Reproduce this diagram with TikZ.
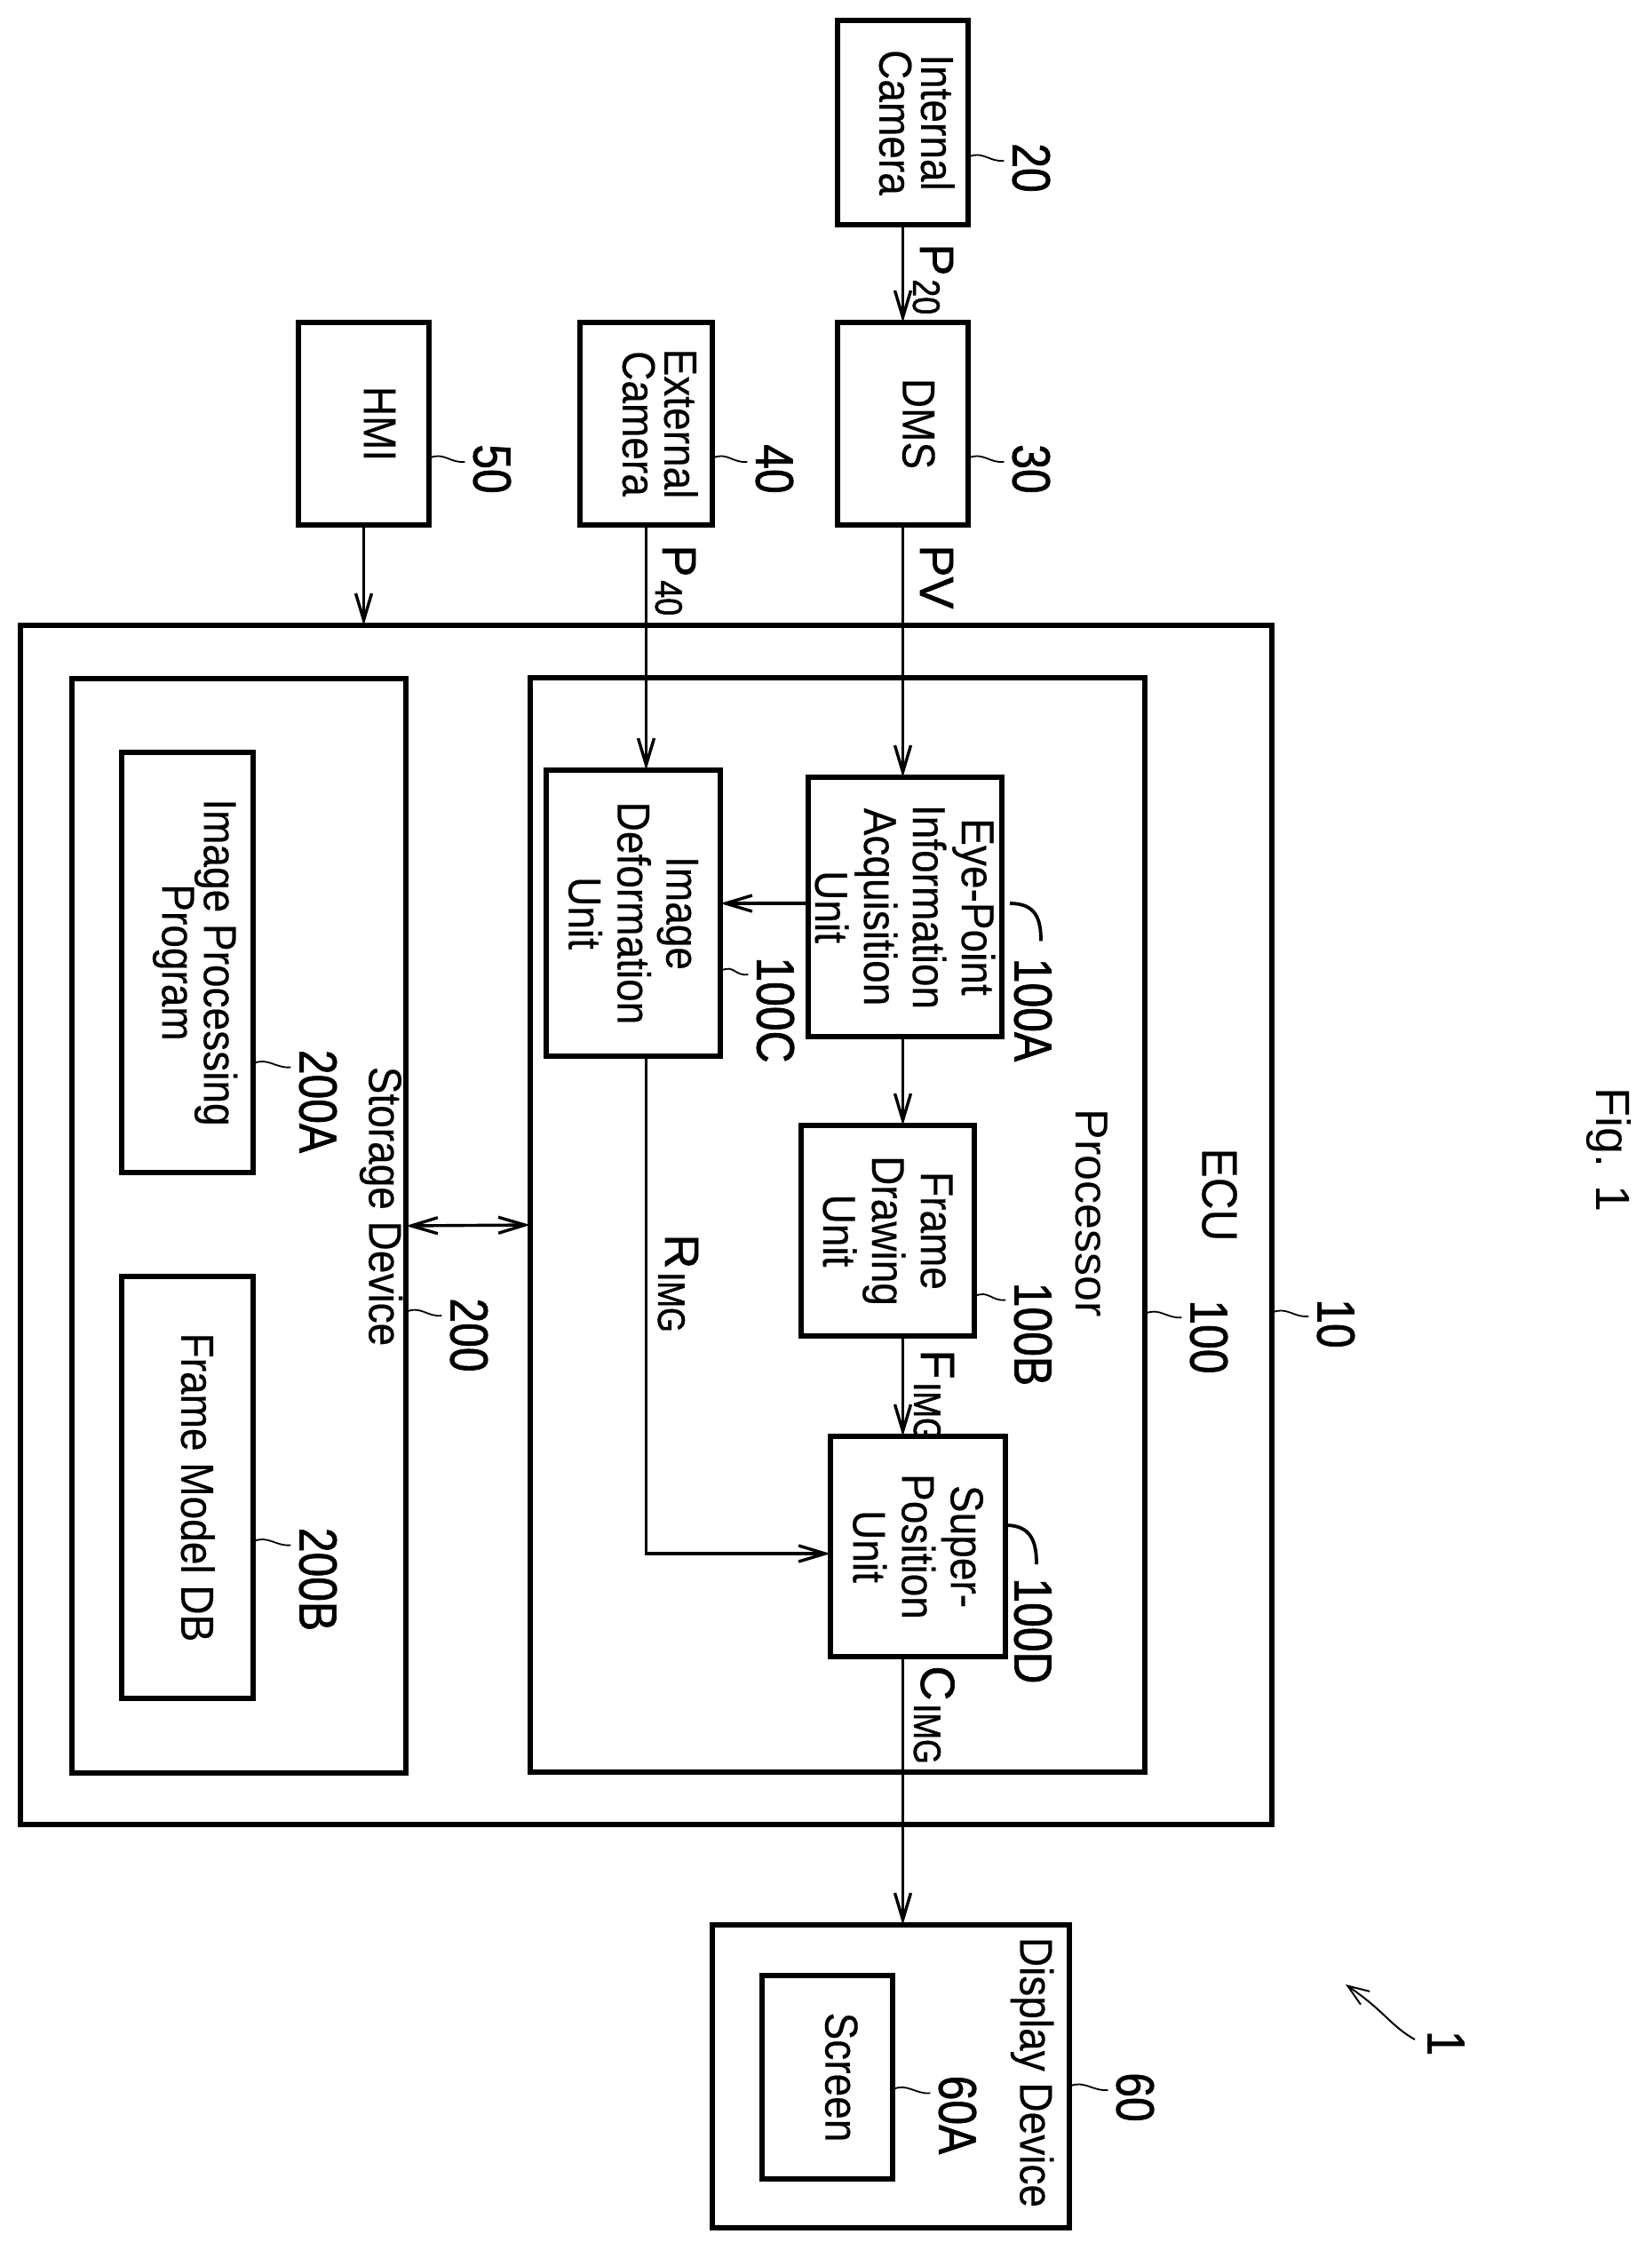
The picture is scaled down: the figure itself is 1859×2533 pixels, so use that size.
\documentclass[tikz,border=0pt]{standalone}
\usepackage{fontspec}
\usepackage{graphicx}
\setmainfont{Liberation Sans}
\newfontfamily\boxfont[FakeStretch=0.885,FakeBold=0.3]{Liberation Sans}
\newfontfamily\numfont[FakeStretch=0.83,FakeBold=1.2]{Liberation Sans}
\newfontfamily\sigfont[FakeBold=1.2]{Liberation Sans}
\usetikzlibrary{positioning,calc}
\usetikzlibrary{arrows.meta}
\newcommand{\signame}[2]{{\fontsize{27}{27}\sigfont #1}\kern2pt\raisebox{-4pt}{\fontsize{21.5}{21.5}\numfont #2}}
\tikzstyle{blockBox}  =[draw,fill=white,line width=2.6pt,rotate=-90,align=center,inner sep=0pt,outer sep=0pt,font=\fontsize{26}{27.5}\boxfont]
\tikzstyle{blockLift} =[blockBox,text depth=18pt]
\tikzstyle{blockTight}=[blockBox,text depth=16pt,font=\fontsize{26}{23.5}\boxfont]
\tikzstyle{groupBox}  =[draw,line width=2.8pt,inner sep=0pt,outer sep=0pt]
\tikzstyle{groupName} =[rotate=-90,inner sep=0pt,font=\fontsize{26}{27}\boxfont]
\tikzstyle{refText}   =[rotate=-90,inner sep=0pt,font=\fontsize{30}{30}\numfont]
\tikzstyle{sigText}   =[rotate=-90,inner sep=0pt,anchor=base west]
\tikzstyle{flowLine}  =[line width=1.7pt,>={Straight Barb[length=15pt,width=9pt]}]
\tikzstyle{leadLine}  =[line width=0.9pt]
\tikzstyle{hookLine}  =[line width=1.9pt]
\begin{document}
\begin{tikzpicture}[x=0.5pt,y=-0.5pt]
        \useasboundingbox (0,0) rectangle (1859,2533);
        \node[groupBox, minimum width=704.5pt, minimum height=675pt] (ecu) at (727.5,1379) {};
        \node[groupBox, minimum width=346pt, minimum height=616pt] (proc) at (943,1379) {};
        \node[groupBox, minimum width=188pt, minimum height=616pt] (store) at (269,1380) {};
        \node[groupBox, minimum width=201pt, minimum height=170.5pt] (disp) at (1003,2337.5) {};
        \node[sigText] (sigP20) at (1036,274) {\signame{P}{20}};
        \node[sigText] (sigPV) at (1036,613) {\fontsize{27}{27}\sigfont PV};
        \node[sigText] (sigP40) at (746,613) {\signame{P}{40}};
        \node[sigText] (sigR) at (749,1389) {\signame{R}{IMG}};
        \node[sigText] (sigF) at (1037,1519) {\signame{F}{IMG}};
        \node[sigText] (sigC) at (1037,1875) {\signame{C}{IMG}};
        \node[blockTight, minimum width=115pt, minimum height=73.5pt] (cam) at (1016.5,138) {Internal\\Camera};
        \node[blockLift, minimum width=114pt, minimum height=73.5pt] (dms) at (1016.5,477) {DMS};
        \node[blockTight, minimum width=114pt, minimum height=74.5pt] (ext) at (727.5,477) {External\\Camera};
        \node[blockLift, minimum width=114pt, minimum height=73.5pt] (hmi) at (409.5,477) {HMI};
        \node[blockBox, minimum width=146pt, minimum height=109pt] (eye) at (1019,1021) {Eye-Point\\Information\\Acquisition\\Unit};
        \node[blockBox, minimum width=161pt, minimum height=98pt] (imgdef) at (713,1028) {Image\\Deformation\\Unit};
        \node[blockBox, minimum width=118.5pt, minimum height=97.5pt] (frame) at (999.5,1385.5) {Frame\\Drawing\\Unit};
        \node[blockBox, minimum width=124pt, minimum height=98.5pt] (super) at (1033.5,1741) {Super-\\Position\\Unit};
        \node[blockTight, text depth=14pt, minimum width=236.5pt, minimum height=74pt] (ipp) at (211,1083.5) {Image Processing\\Program};
        \node[blockTight, text depth=12pt, minimum width=237.5pt, minimum height=74pt] (fmdb) at (211,1674.5) {Frame Model DB};
        \node[blockLift, text depth=16pt, minimum width=114.5pt, minimum height=73.5pt] (screen) at (931.5,2338.5) {Screen};
        \node[groupName] (ecuName) at (1373,1345) {\fontsize{28}{28}\boxfont ECU};
        \node[groupName] (procName) at (1229,1366) {\fontsize{26}{26}\selectfont\rmfamily Processor};
        \node[groupName] (storeName) at (429,1358) {Storage Device};
        \node[groupName] (dispName) at (1162,2333) {Display Device};
        \node[refText] (num20) at (1161,189) {20};
        \node[refText] (num30) at (1161,528) {30};
        \node[refText] (num40) at (872,528) {40};
        \node[refText] (num50) at (554,528) {50};
        \node[refText] (num10) at (1504,1490) {10};
        \node[refText] (num100) at (1361,1505) {100};
        \node[refText] (num100A) at (1163,1137) {100A};
        \node[refText] (num100B) at (1163,1502) {100B};
        \node[refText] (num100C) at (873,1137) {100C};
        \node[refText] (num100D) at (1163,1836) {100D};
        \node[refText] (num200) at (528,1503) {200};
        \node[refText] (num200A) at (358,1240) {200A};
        \node[refText] (num200B) at (358,1778) {200B};
        \node[refText] (num60) at (1278,2361) {60};
        \node[refText] (num60A) at (1078,2381) {60A};
        \node[refText] (num1) at (1628,2300) {1};
        \node[rotate=-90,inner sep=0pt,font=\fontsize{27}{27}\selectfont] (figName) at (1811,1295) {Fig. 1};
        \coordinate (sysTip) at (1515,2234);
        \draw[flowLine,->] (cam.east) -- (dms.west);
        \draw[flowLine,->] (dms.east) -- (dms.east |- eye.west);
        \draw[flowLine,->] (ext.east) -- (ext.east |- imgdef.west);
        \draw[flowLine,->] (hmi.east) -- (hmi.east |- ecu.north);
        \draw[flowLine,->] ([yshift=2pt]eye.south) -- ([yshift=2pt]eye.south -| imgdef.north);
        \draw[flowLine,->] (dms.east |- eye.east) -- (dms.east |- frame.west);
        \draw[flowLine,->] (dms.east |- frame.east) -- (dms.east |- super.west);
        \draw[flowLine,->] (ext.east |- imgdef.east) |- ([yshift=-4pt]super.south);
        \draw[flowLine,->] (dms.east |- super.east) -- (dms.east |- disp.north);
        \draw[flowLine,<->] (store.east) -- (proc.west);
        \foreach \boxside/\numname in {cam.north/num20,dms.north/num30,ext.north/num40,hmi.north/num50,ecu.east/num10,proc.east/num100,frame.north/num100B,imgdef.north/num100C,store.east/num200,ipp.north/num200A,fmdb.north/num200B,disp.east/num60,screen.north/num60A}
          \draw[leadLine] ([yshift=-8pt]\boxside |- \numname.west) .. controls +(8pt,4pt) and +(-8pt,-1pt) .. ([xshift=-4.5pt,yshift=-10pt]\numname.south |- \numname.west);
        \draw[hookLine] ([xshift=4.5pt,yshift=2pt]eye.north) .. controls +(15pt,0pt) and +(0pt,12pt) .. ([xshift=4.5pt,yshift=9.5pt]num100A.west);
        \draw[hookLine] ([yshift=12pt]super.north) .. controls +(15pt,0pt) and +(0pt,12pt) .. ([xshift=2pt,yshift=7.5pt]num100D.west);
        \draw[line width=1pt,-{Straight Barb[length=12pt,width=9pt]}] ([xshift=-7pt,yshift=2pt]num1.south) .. controls (1565,2280) and (1560,2265) .. (sysTip);
      \end{tikzpicture}
\end{document}
